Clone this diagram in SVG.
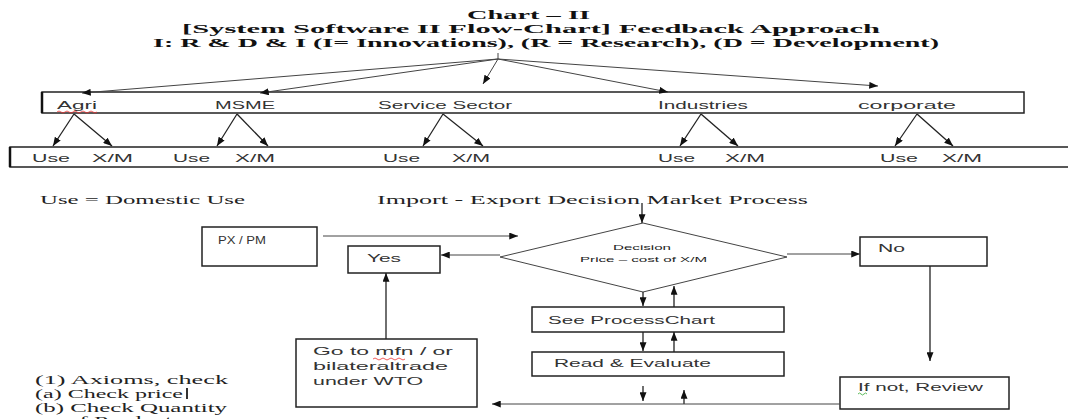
<svg xmlns="http://www.w3.org/2000/svg" width="1068" height="419" viewBox="0 0 1068 419">
<style>
.title{font-family:"Liberation Serif",serif;font-weight:bold;font-size:13px;fill:#111}
.serif{font-family:"Liberation Serif",serif;font-size:13px;fill:#222}
.sans{font-family:"Liberation Sans",Arial,sans-serif;font-size:10.5px;fill:#333}
.tiny{font-family:"Liberation Sans",Arial,sans-serif;font-size:7px;fill:#222}
.box{fill:#fff;stroke:#222;stroke-width:1.5}
.ln{fill:none;stroke:#222;stroke-width:1.3}
.thin{fill:none;stroke:#444;stroke-width:1}
</style>
<defs>
<marker id="ah" viewBox="0 0 10 8" refX="10" refY="4" markerWidth="9" markerHeight="7" markerUnits="userSpaceOnUse" orient="auto">
<path d="M0,0 L10,4 L0,8 Z" fill="#111"/>
</marker>
</defs>
<rect width="1068" height="419" fill="#fff"/>
<g id="title">
<text class="title" x="467" y="19" textLength="123" lengthAdjust="spacingAndGlyphs">Chart – II</text>
<text class="title" x="182" y="33" textLength="698" lengthAdjust="spacingAndGlyphs">[System Software II Flow-Chart] Feedback Approach</text>
<text class="title" x="153" y="47" textLength="786" lengthAdjust="spacingAndGlyphs">I: R &amp; D &amp; I (I= Innovations), (R = Research), (D = Development)</text>
</g>
<g id="sectors">
<rect class="box" x="42" y="92" width="982" height="21"/>
<line x1="42" y1="92" x2="42" y2="113" stroke="#111" stroke-width="2.5"/>
<text class="sans" x="57" y="109" textLength="40" lengthAdjust="spacingAndGlyphs">Agri</text>
<text class="sans" x="215" y="109" textLength="60" lengthAdjust="spacingAndGlyphs">MSME</text>
<text class="sans" x="378" y="109" textLength="134" lengthAdjust="spacingAndGlyphs">Service Sector</text>
<text class="sans" x="658" y="109" textLength="90" lengthAdjust="spacingAndGlyphs">Industries</text>
<text class="sans" x="858" y="109" textLength="98" lengthAdjust="spacingAndGlyphs">corporate</text>
</g>
<g id="uses">
<path class="box" d="M1070,147 H10 V167 H1070"/>
<line x1="10" y1="147" x2="10" y2="167" stroke="#111" stroke-width="2.5"/>
<text class="sans" x="32" y="162" textLength="38" lengthAdjust="spacingAndGlyphs">Use</text>
<text class="sans" x="92" y="162" textLength="41" lengthAdjust="spacingAndGlyphs">X/M</text>
<text class="sans" x="173" y="162" textLength="37" lengthAdjust="spacingAndGlyphs">Use</text>
<text class="sans" x="235" y="162" textLength="40" lengthAdjust="spacingAndGlyphs">X/M</text>
<text class="sans" x="383" y="162" textLength="37" lengthAdjust="spacingAndGlyphs">Use</text>
<text class="sans" x="452" y="162" textLength="38" lengthAdjust="spacingAndGlyphs">X/M</text>
<text class="sans" x="658" y="162" textLength="37" lengthAdjust="spacingAndGlyphs">Use</text>
<text class="sans" x="725" y="162" textLength="40" lengthAdjust="spacingAndGlyphs">X/M</text>
<text class="sans" x="880" y="162" textLength="38" lengthAdjust="spacingAndGlyphs">Use</text>
<text class="sans" x="942" y="162" textLength="40" lengthAdjust="spacingAndGlyphs">X/M</text>
</g>
<g id="notes">
<text class="serif" x="40" y="204" textLength="205" lengthAdjust="spacingAndGlyphs">Use = Domestic Use</text>
<text class="serif" x="377" y="204" textLength="431" lengthAdjust="spacingAndGlyphs">Import - Export Decision Market Process</text>
</g>
<g id="pxpm">
<rect class="box" x="202" y="227" width="115" height="39"/>
<text class="sans" x="218" y="244" textLength="48" lengthAdjust="spacingAndGlyphs">PX / PM</text>
</g>
<g id="yes">
<rect class="box" x="348" y="246" width="92" height="27"/>
<text class="sans" x="367" y="262" textLength="34" lengthAdjust="spacingAndGlyphs">Yes</text>
</g>
<g id="decision">
<polygon class="thin" points="643,223 787,257 643,292 500,257"/>
<text class="tiny" x="613" y="250" textLength="58" lengthAdjust="spacingAndGlyphs">Decision</text>
<text class="tiny" x="580" y="262" textLength="127" lengthAdjust="spacingAndGlyphs">Price – cost of X/M</text>
</g>
<g id="no">
<rect class="box" x="860" y="237" width="127" height="29"/>
<text class="sans" x="878" y="252" textLength="27" lengthAdjust="spacingAndGlyphs">No</text>
</g>
<g id="see-process">
<rect class="box" x="532" y="307" width="252" height="25"/>
<text class="sans" x="548" y="324" textLength="167" lengthAdjust="spacingAndGlyphs">See ProcessChart</text>
</g>
<g id="read-evaluate">
<rect class="box" x="532" y="352" width="252" height="24"/>
<text class="sans" x="554" y="367" textLength="157" lengthAdjust="spacingAndGlyphs">Read &amp; Evaluate</text>
</g>
<g id="goto">
<rect class="box" x="296" y="339" width="181" height="68"/>
<text class="sans" x="313" y="355" textLength="140" lengthAdjust="spacingAndGlyphs">Go to mfn / or</text>
<text class="sans" x="313" y="370" textLength="135" lengthAdjust="spacingAndGlyphs">bilateraltrade</text>
<text class="sans" x="313" y="385" textLength="110" lengthAdjust="spacingAndGlyphs">under WTO</text>
<path d="M373,359 q2,-2 4,0 t4,0 t4,0 t4,0 t4,0 t4,0 t4,0 t4,0" fill="none" stroke="#e33" stroke-width="0.8"/>
</g>
<g id="review">
<rect class="box" x="840" y="377" width="169" height="32"/>
<text class="sans" x="858" y="391" textLength="125" lengthAdjust="spacingAndGlyphs">If not, Review</text>
<path d="M858,394 q1.5,-2 3,0 t3,0 t3,0" fill="none" stroke="#3a3" stroke-width="0.8"/>
</g>
<g id="axioms">
<text class="serif" x="35" y="384" textLength="193" lengthAdjust="spacingAndGlyphs">(1) Axioms, check</text>
<text class="serif" x="35" y="398" textLength="148" lengthAdjust="spacingAndGlyphs">(a) Check price</text>
<line x1="187" y1="388" x2="187" y2="399" stroke="#000" stroke-width="1.6"/>
<text class="serif" x="35" y="412" textLength="192" lengthAdjust="spacingAndGlyphs">(b) Check Quantity</text>
<text class="serif" x="67" y="425" textLength="105" lengthAdjust="spacingAndGlyphs">of Product</text>
</g>
<g id="spellcheck">
<path d="M57,112 q2,-2 4,0 t4,0 t4,0 t4,0 t4,0 t4,0 t4,0 t4,0 t4,0 t4,0" fill="none" stroke="#e33" stroke-width="0.8"/>
</g>
<g id="connectors">
<line class="thin" x1="498" y1="53" x2="498" y2="59"/>
<line class="thin" x1="498" y1="59" x2="82" y2="93" marker-end="url(#ah)"/>
<line class="thin" x1="498" y1="59" x2="260" y2="93" marker-end="url(#ah)"/>
<line class="thin" x1="498" y1="59" x2="483" y2="84" marker-end="url(#ah)"/>
<line class="thin" x1="498" y1="59" x2="668" y2="92" marker-end="url(#ah)"/>
<line class="thin" x1="498" y1="59" x2="878" y2="86" marker-end="url(#ah)"/>
<line class="ln" x1="74" y1="114" x2="53" y2="146" marker-end="url(#ah)"/>
<line class="ln" x1="74" y1="114" x2="112" y2="146" marker-end="url(#ah)"/>
<line class="ln" x1="237" y1="114" x2="217" y2="146" marker-end="url(#ah)"/>
<line class="ln" x1="237" y1="114" x2="268" y2="146" marker-end="url(#ah)"/>
<line class="ln" x1="443" y1="114" x2="423" y2="146" marker-end="url(#ah)"/>
<line class="ln" x1="443" y1="114" x2="483" y2="146" marker-end="url(#ah)"/>
<line class="ln" x1="701" y1="114" x2="680" y2="146" marker-end="url(#ah)"/>
<line class="ln" x1="701" y1="114" x2="738" y2="146" marker-end="url(#ah)"/>
<line class="ln" x1="917" y1="114" x2="895" y2="146" marker-end="url(#ah)"/>
<line class="ln" x1="917" y1="114" x2="953" y2="146" marker-end="url(#ah)"/>
<line class="ln" x1="642" y1="203" x2="642" y2="223" marker-end="url(#ah)"/>
<line class="thin" x1="323" y1="236" x2="518" y2="236" marker-end="url(#ah)"/>
<line class="thin" x1="500" y1="255" x2="441" y2="255" marker-end="url(#ah)"/>
<line class="thin" x1="787" y1="254" x2="860" y2="254" marker-end="url(#ah)"/>
<line class="ln" x1="386" y1="339" x2="386" y2="273" marker-end="url(#ah)"/>
<line class="ln" x1="930" y1="266" x2="930" y2="361" marker-end="url(#ah)"/>
<line class="ln" x1="643" y1="292" x2="643" y2="306" marker-end="url(#ah)"/>
<line class="ln" x1="674" y1="307" x2="674" y2="286" marker-end="url(#ah)"/>
<line class="ln" x1="643" y1="332" x2="643" y2="351" marker-end="url(#ah)"/>
<line class="ln" x1="674" y1="352" x2="674" y2="332" marker-end="url(#ah)"/>
<line class="ln" x1="643" y1="386" x2="643" y2="401" marker-end="url(#ah)"/>
<line class="ln" x1="684" y1="404" x2="684" y2="390" marker-end="url(#ah)"/>
<line class="thin" x1="840" y1="404" x2="492" y2="404" marker-end="url(#ah)"/>
</g>
</svg>
